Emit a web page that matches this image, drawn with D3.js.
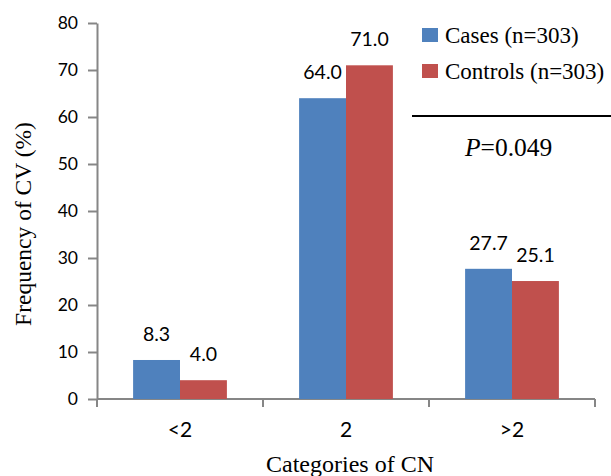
<!DOCTYPE html>
<meta charset="utf-8">
<style>
body { margin: 0; background: #fff; }
.axis path, .axis line { stroke: #868686; stroke-width: 2px; }
.axis text { font-family: Lato, sans-serif; fill: #000; }
.serif { font-family: "Liberation Serif", "Times New Roman", serif; fill: #000; }
</style>
<body>
<script src="https://cdn.jsdelivr.net/npm/d3@7"></script>
<script>
var categories = ["<2", "2", ">2"];
var seriesNames = ["Cases (n=303)", "Controls (n=303)"];
var cases = [8.3, 64.0, 27.7];
var controls = [4.0, 71.0, 25.1];
var yTicks = [0, 10, 20, 30, 40, 50, 60, 70, 80];
var colors = ["#4F81BD", "#C0504D"];

var width = 611, height = 476,
    margin = {top: 23, right: 16, bottom: 77, left: 97},
    w = width - margin.left - margin.right,
    h = height - margin.top - margin.bottom;

var svg = d3.select("body").append("svg")
    .attr("width", width)
    .attr("height", height);

var g = svg.append("g")
    .attr("transform", "translate(" + margin.left + "," + margin.top + ")");

var x = d3.scaleBand().domain(categories).range([0, w])
    .paddingInner(0.435).paddingOuter(0.2175);
var x1 = d3.scaleBand().domain([0, 1]).range([0, x.bandwidth()]);
var y = d3.scaleLinear().domain([0, 80]).range([h, 0]);

var data = categories.map(function(c, i) {
  return {cat: c, values: [cases[i], controls[i]]};
});

// y axis
var yAxis = g.append("g")
    .attr("class", "axis")
    .call(d3.axisLeft(y).tickValues(yTicks).tickSize(9).tickPadding(10).tickSizeOuter(0));
yAxis.selectAll("text").style("font-size", "17.5px");

// x axis: ticks at band boundaries
var xAxisG = g.append("g")
    .attr("class", "axis")
    .attr("transform", "translate(0," + h + ")");
xAxisG.append("line").attr("x1", 0).attr("x2", w).attr("y1", 0).attr("y2", 0);
var step = x.step();
xAxisG.selectAll(".tk")
    .data(d3.range(categories.length + 1))
  .enter().append("line")
    .attr("class", "tk")
    .attr("x1", function(d) { return d * step; })
    .attr("x2", function(d) { return d * step; })
    .attr("y1", 0).attr("y2", 8);
xAxisG.selectAll(".lbl")
    .data(categories)
  .enter().append("text")
    .attr("class", "lbl")
    .attr("x", function(d) { return x(d) + x.bandwidth() / 2; })
    .attr("y", 38)
    .attr("text-anchor", "middle")
    .style("font-size", "21px")
    .text(function(d) { return d; });

// bars
var grp = g.selectAll(".grp")
    .data(data)
  .enter().append("g")
    .attr("class", "grp")
    .attr("transform", function(d) { return "translate(" + x(d.cat) + ",0)"; });

grp.selectAll("rect")
    .data(function(d) { return d.values; })
  .enter().append("rect")
    .attr("x", function(d, i) { return x1(i); })
    .attr("y", function(d) { return y(d); })
    .attr("width", x1.bandwidth())
    .attr("height", function(d) { return h - y(d); })
    .attr("fill", function(d, i) { return colors[i]; });

grp.selectAll(".val")
    .data(function(d) { return d.values; })
  .enter().append("text")
    .attr("class", "val")
    .attr("x", function(d, i) { return x1(i) + x1.bandwidth() / 2; })
    .attr("y", function(d) { return y(d) - 19; })
    .attr("text-anchor", "middle")
    .style("font-family", "Lato, sans-serif")
    .style("font-size", "19.5px")
    .text(function(d) { return d.toFixed(1); });

// axis titles
svg.append("text")
    .attr("class", "serif")
    .attr("transform", "translate(31," + (margin.top + h / 2 + 13) + ") rotate(-90)")
    .attr("text-anchor", "middle")
    .style("font-size", "23.5px")
    .text("Frequency of CV (%)");

svg.append("text")
    .attr("class", "serif")
    .attr("x", 350)
    .attr("y", 472)
    .attr("text-anchor", "middle")
    .style("font-size", "24px")
    .text("Categories of CN");

// legend
var legend = svg.selectAll(".legend")
    .data(seriesNames)
  .enter().append("g")
    .attr("class", "legend")
    .attr("transform", function(d, i) { return "translate(422," + (28 + i * 36) + ")"; });
legend.append("rect")
    .attr("width", 16).attr("height", 14)
    .attr("fill", function(d, i) { return colors[i]; });
legend.append("text")
    .attr("class", "serif")
    .attr("x", 23).attr("y", 15)
    .style("font-size", "23px")
    .text(function(d) { return d; });

// significance annotation
svg.append("line")
    .attr("x1", 412).attr("x2", 611)
    .attr("y1", 116).attr("y2", 116)
    .attr("stroke", "#000").attr("stroke-width", 2);

var p = svg.append("text")
    .attr("class", "serif")
    .attr("x", 465).attr("y", 156)
    .style("font-size", "25.5px");
p.append("tspan").style("font-style", "italic").text("P");
p.append("tspan").text("=0.049");
</script>
</body>
